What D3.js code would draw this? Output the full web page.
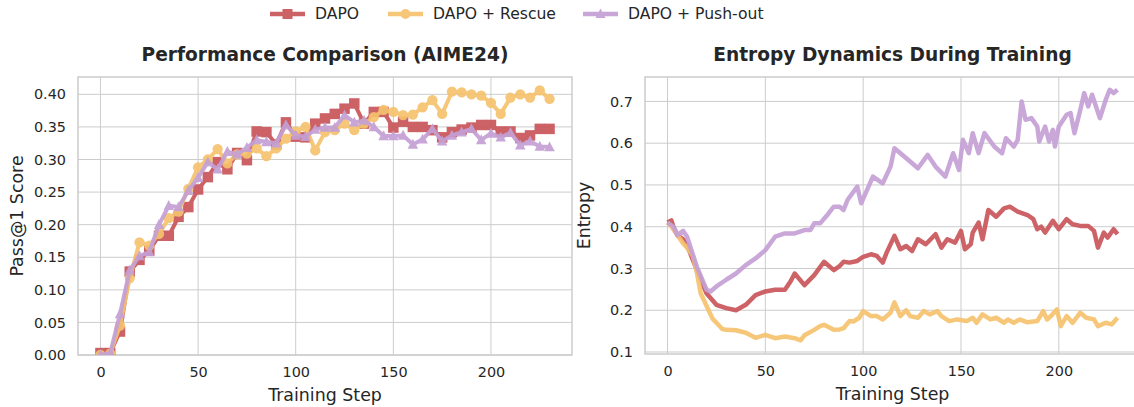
<!DOCTYPE html>
<html>
<head>
<meta charset="utf-8">
<script src="https://cdn.jsdelivr.net/npm/d3@7"></script>
<style>
  body { margin: 0; background: #fff; }
  svg { display: block; font-family: "DejaVu Sans", sans-serif; }
</style>
</head>
<body>
<svg id="chart" width="1134" height="407"></svg>
<script>
// ---- data ----
const seriesNames = ['DAPO', 'DAPO + Rescue', 'DAPO + Push-out'];
const seriesColors = ['#c9555a', '#f6c26e', '#c4a0d5'];
const seriesMarkers = ['square', 'circle', 'triangle'];

// Pass@1 evaluated every 5 steps
const evalSteps = d3.range(0, 231, 5);
const passDapo = [0.003, 0.003, 0.036, 0.128, 0.146, 0.16, 0.183, 0.183, 0.212, 0.227,
  0.254, 0.273, 0.296, 0.285, 0.31, 0.299, 0.343, 0.342, 0.323, 0.357,
  0.335, 0.334, 0.355, 0.363, 0.37, 0.378, 0.386, 0.355, 0.373, 0.373,
  0.349, 0.358, 0.35, 0.35, 0.345, 0.334, 0.342, 0.346, 0.349, 0.353,
  0.353, 0.343, 0.343, 0.333, 0.337, 0.347, 0.347];
const passRescue = [0.0, 0.002, 0.045, 0.118, 0.173, 0.168, 0.186, 0.21, 0.22, 0.255,
  0.288, 0.3, 0.316, 0.294, 0.308, 0.309, 0.317, 0.305, 0.317, 0.332,
  0.343, 0.35, 0.314, 0.342, 0.345, 0.355, 0.345, 0.355, 0.365, 0.376,
  0.373, 0.368, 0.369, 0.38, 0.391, 0.37, 0.404, 0.403, 0.4, 0.398,
  0.387, 0.37, 0.395, 0.4, 0.395, 0.406, 0.393];
const passPushout = [0.0, 0.003, 0.063, 0.13, 0.152, 0.158, 0.2, 0.229, 0.227, 0.252,
  0.272, 0.296, 0.285, 0.312, 0.308, 0.318, 0.33, 0.327, 0.325, 0.353,
  0.337, 0.335, 0.346, 0.349, 0.349, 0.368, 0.357, 0.36, 0.35, 0.336,
  0.336, 0.337, 0.323, 0.331, 0.347, 0.328, 0.337, 0.342, 0.347, 0.33,
  0.34, 0.334, 0.341, 0.322, 0.328, 0.32, 0.319];

// Entropy, [step, value]
const entDapo = [[0,0.41],[2,0.415],[3,0.40],[5,0.38],[8,0.37],[10,0.356],[15,0.296],[20,0.24],[25,0.213],
  [30,0.205],[35,0.2],[40,0.213],[45,0.236],[50,0.245],[55,0.249],[60,0.249],[63,0.27],[65,0.288],
  [70,0.26],[75,0.284],[80,0.316],[85,0.296],[88,0.306],[90,0.316],[93,0.314],[97,0.318],[100,0.328],
  [104,0.334],[107,0.33],[110,0.314],[112,0.338],[116,0.378],[119,0.346],[122,0.354],[125,0.342],
  [128,0.37],[132,0.358],[137,0.382],[140,0.35],[143,0.37],[147,0.362],[150,0.39],[152,0.346],
  [155,0.358],[156,0.386],[159,0.41],[161,0.37],[164,0.44],[168,0.424],[172,0.444],[175,0.448],
  [179,0.436],[184,0.428],[187,0.418],[189,0.394],[191,0.40],[193,0.386],[197,0.414],[200,0.394],
  [204,0.418],[207,0.406],[211,0.402],[215,0.402],[218,0.39],[220,0.35],[223,0.386],[225,0.374],
  [228,0.394],[230,0.382]];
const entRescue = [[0,0.41],[2,0.40],[5,0.38],[8,0.36],[10,0.35],[13,0.33],[15,0.29],[17,0.24],
  [20,0.21],[23,0.18],[25,0.17],[28,0.155],[30,0.153],[35,0.152],[40,0.146],[45,0.134],[50,0.141],
  [55,0.133],[60,0.137],[65,0.133],[68,0.128],[70,0.14],[75,0.153],[78,0.162],[80,0.165],[85,0.153],
  [88,0.154],[90,0.157],[93,0.174],[95,0.173],[98,0.182],[100,0.198],[104,0.186],[107,0.186],
  [110,0.178],[114,0.194],[116,0.219],[119,0.186],[122,0.2],[124,0.186],[128,0.182],[131,0.198],
  [134,0.19],[138,0.198],[140,0.186],[144,0.174],[148,0.178],[153,0.174],[156,0.182],[158,0.17],
  [161,0.19],[165,0.178],[168,0.182],[172,0.17],[174,0.178],[177,0.17],[180,0.178],[184,0.171],
  [189,0.174],[192,0.198],[194,0.178],[196,0.186],[199,0.202],[201,0.162],[204,0.186],[207,0.17],
  [211,0.194],[214,0.182],[218,0.178],[220,0.162],[224,0.17],[227,0.166],[230,0.182]];
const entPushout = [[0,0.41],[3,0.40],[5,0.38],[8,0.39],[10,0.376],[15,0.304],[20,0.249],[22,0.245],
  [25,0.257],[30,0.273],[35,0.288],[40,0.308],[45,0.324],[50,0.344],[55,0.376],[60,0.384],[65,0.384],
  [70,0.392],[73,0.392],[75,0.408],[78,0.408],[82,0.43],[85,0.448],[88,0.448],[90,0.44],[92,0.464],
  [97,0.496],[99,0.456],[102,0.488],[105,0.52],[110,0.504],[114,0.544],[116,0.588],[121,0.568],
  [124,0.556],[128,0.54],[133,0.572],[137,0.544],[142,0.52],[146,0.576],[149,0.536],[151,0.608],
  [154,0.576],[156,0.624],[159,0.576],[162,0.624],[167,0.592],[171,0.576],[173,0.612],[177,0.592],
  [179,0.608],[181,0.70],[183,0.656],[186,0.66],[189,0.64],[190,0.604],[193,0.64],[195,0.604],
  [197,0.632],[198,0.592],[200,0.64],[204,0.668],[206,0.672],[208,0.624],[211,0.68],[213,0.72],
  [215,0.688],[217,0.716],[221,0.66],[224,0.704],[226,0.728],[228,0.72],[230,0.728]];

const xTicks = [0, 50, 100, 150, 200];
const passTicks = [0, 0.05, 0.1, 0.15, 0.2, 0.25, 0.3, 0.35, 0.4];
const entTicks = [0.1, 0.2, 0.3, 0.4, 0.5, 0.6, 0.7];

// ---- drawing ----
const svg = d3.select('#chart');
const textColor = '#262626';
const gridColor = '#cccccc';

function drawPanel(opts) {
  const { left, top, width, height, xDomain, yDomain, yTicks, yFmt, title, yLabel } = opts;
  const x = d3.scaleLinear().domain(xDomain).range([left, left + width]);
  const y = d3.scaleLinear().domain(yDomain).range([top + height, top]);

  const g = svg.append('g');

  // grid
  g.selectAll('.vgrid').data(xTicks).enter().append('line')
    .attr('x1', d => x(d)).attr('x2', d => x(d))
    .attr('y1', top).attr('y2', top + height)
    .attr('stroke', gridColor).attr('stroke-width', 1);
  g.selectAll('.hgrid').data(yTicks).enter().append('line')
    .attr('x1', left).attr('x2', left + width)
    .attr('y1', d => y(d)).attr('y2', d => y(d))
    .attr('stroke', gridColor).attr('stroke-width', 1);

  // axes (ticks hidden, labels only)
  const xAxis = g.append('g').attr('transform', `translate(0,${top + height})`)
    .call(d3.axisBottom(x).tickValues(xTicks).tickSize(0).tickPadding(12));
  const yAxis = g.append('g').attr('transform', `translate(${left},0)`)
    .call(d3.axisLeft(y).tickValues(yTicks).tickFormat(yFmt).tickSize(0).tickPadding(12));
  [xAxis, yAxis].forEach(a => {
    a.select('.domain').remove();
    a.selectAll('text').attr('font-size', 14.4).attr('fill', textColor)
      .attr('font-family', '"DejaVu Sans", sans-serif');
  });

  // frame
  g.append('rect')
    .attr('x', left).attr('y', top).attr('width', width).attr('height', height)
    .attr('fill', 'none').attr('stroke', gridColor).attr('stroke-width', 1.5);

  // title and labels
  g.append('text')
    .attr('x', left + width / 2).attr('y', top - 16)
    .attr('text-anchor', 'middle').attr('font-size', 18.6).attr('font-weight', 'bold')
    .attr('fill', textColor).text(title);
  g.append('text')
    .attr('x', left + width / 2).attr('y', top + height + 46)
    .attr('text-anchor', 'middle').attr('font-size', 17.4)
    .attr('fill', textColor).text('Training Step');
  g.append('text')
    .attr('transform', `translate(${left - 55},${top + height / 2}) rotate(-90)`)
    .attr('text-anchor', 'middle').attr('font-size', 17.4)
    .attr('fill', textColor).text(yLabel);

  const clip = 'clip' + Math.round(left);
  svg.append('defs').append('clipPath').attr('id', clip)
    .append('rect').attr('x', left).attr('y', top).attr('width', width).attr('height', height);
  const plot = svg.append('g').attr('clip-path', `url(#${clip})`);
  return { x, y, plot };
}

function markerPath(kind, s) {
  if (kind === 'square') return `M${-s / 2},${-s / 2}h${s}v${s}h${-s}Z`;
  if (kind === 'triangle') {
    const h = s * 0.9;
    return `M0,${-h * 0.6}L${s / 2},${h * 0.45}L${-s / 2},${h * 0.45}Z`;
  }
  return d3.symbol(d3.symbolCircle, s * s * 0.75)();
}

// left panel: Pass@1
const p1 = drawPanel({
  left: 78, top: 77, width: 494, height: 278, xDomain: [-11.5, 241.5],
  yDomain: [0, 0.4266], yTicks: passTicks, yFmt: d3.format('.2f'),
  title: 'Performance Comparison (AIME24)', yLabel: 'Pass@1 Score'
});
[passDapo, passRescue, passPushout].forEach((vals, i) => {
  const pts = vals.map((v, j) => [evalSteps[j], v]);
  const line = d3.line().x(d => p1.x(d[0])).y(d => p1.y(d[1]));
  const grp = p1.plot.append('g').attr('opacity', 0.92);
  grp.append('path').datum(pts).attr('d', line)
    .attr('fill', 'none').attr('stroke', seriesColors[i]).attr('stroke-width', 4)
    .attr('stroke-linejoin', 'round');
  grp.selectAll('.m').data(pts).enter().append('path')
    .attr('transform', d => `translate(${p1.x(d[0])},${p1.y(d[1])})`)
    .attr('d', markerPath(seriesMarkers[i], 10.5))
    .attr('fill', seriesColors[i]);
});

// right panel: Entropy
const p2 = drawPanel({
  left: 645, top: 77, width: 495, height: 277, xDomain: [-11.5, 241.5],
  yDomain: [0.0952, 0.7585], yTicks: entTicks, yFmt: d3.format('.1f'),
  title: 'Entropy Dynamics During Training', yLabel: 'Entropy'
});
[entDapo, entRescue, entPushout].forEach((pts, i) => {
  const line = d3.line().x(d => p2.x(d[0])).y(d => p2.y(d[1]));
  p2.plot.append('path').datum(pts).attr('d', line)
    .attr('fill', 'none').attr('stroke', seriesColors[i]).attr('stroke-width', 4.5)
    .attr('stroke-linejoin', 'round').attr('opacity', 0.92);
});

// legend
const legendX = [270, 388, 583];
const legend = svg.append('g');
seriesNames.forEach((name, i) => {
  const lg = legend.append('g').attr('transform', `translate(${legendX[i]},14)`).attr('opacity', 0.92);
  lg.append('line').attr('x1', 0).attr('x2', 35).attr('y1', 0).attr('y2', 0)
    .attr('stroke', seriesColors[i]).attr('stroke-width', 4.5);
  lg.append('path').attr('transform', 'translate(17.5,0)')
    .attr('d', markerPath(seriesMarkers[i], 10)).attr('fill', seriesColors[i]);
  legend.append('text').attr('x', legendX[i] + 45).attr('y', 14).attr('dy', '0.35em')
    .attr('font-size', 15.6).attr('fill', textColor).text(name);
});
</script>
</body>
</html>
